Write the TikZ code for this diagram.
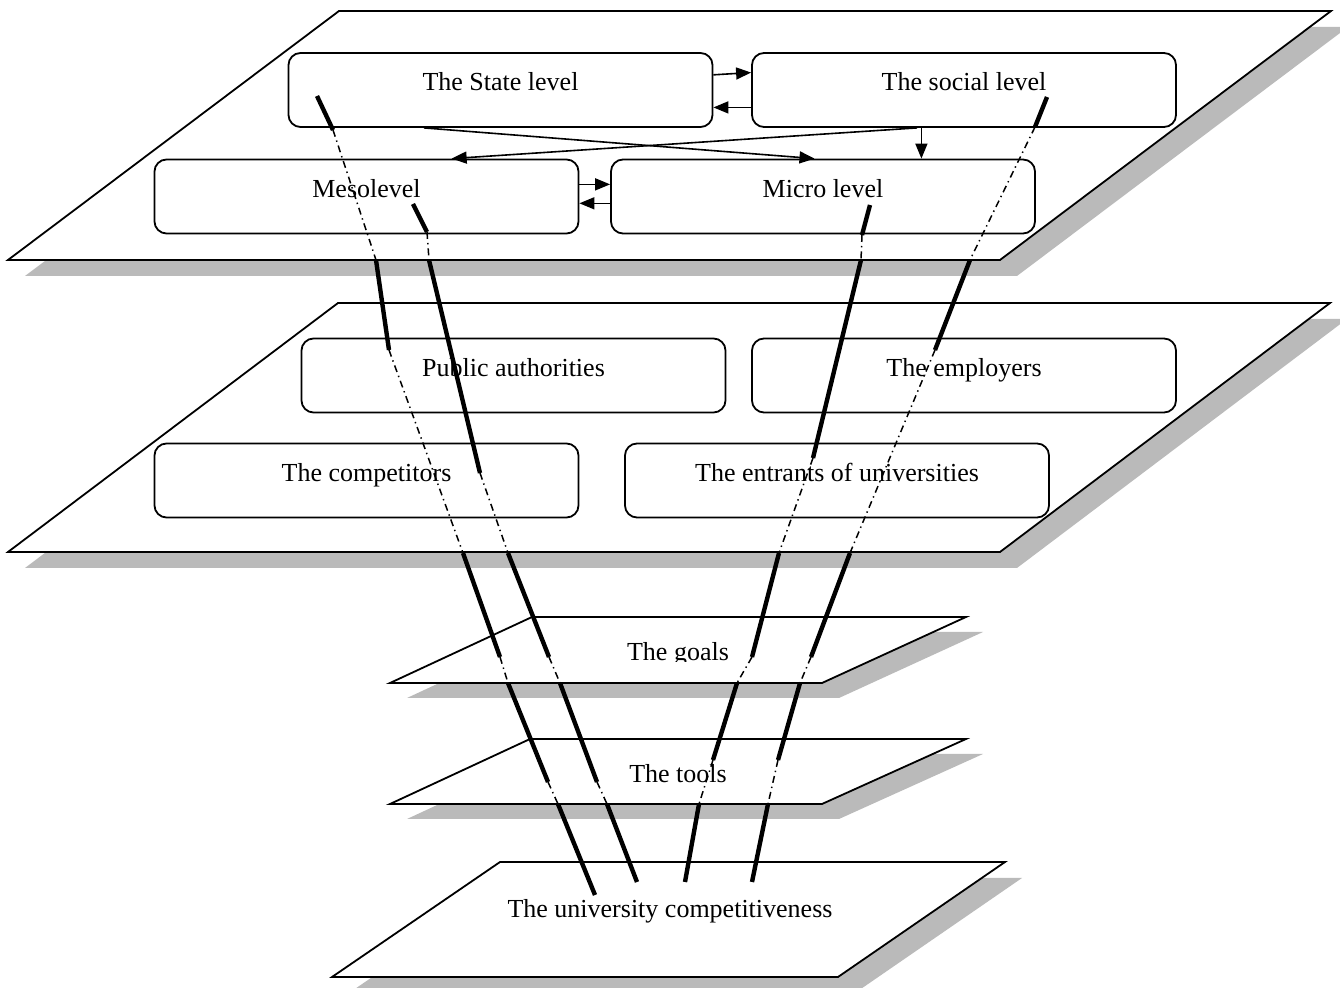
\documentclass[tikz,border=0pt]{standalone}
\usepackage{fontspec}
\setmainfont{Liberation Serif}
\usetikzlibrary{arrows.meta,calc}
\begin{document}
\begin{tikzpicture}[x=0.5pt,y=-0.5pt,
  plane/.style={draw=black,line width=0.9pt,fill=white,line join=miter},
  shadow/.style={fill=black!27},
  box/.style={draw,line width=0.9pt,rounded corners=6pt,minimum width=212pt,minimum height=37pt,inner sep=0pt,fill=white},
  lbl/.style={font=\fontsize{13}{15}\selectfont,inner sep=0pt,anchor=base},
  arr/.style={line width=0.8pt,-{Triangle[length=7.5pt,width=6pt]}},
  strand/.style={line width=2.2pt},
  hidden/.style={line width=0.75pt,dash pattern=on 3.5pt off 2pt on 0.7pt off 2pt}
]
\useasboundingbox (0,0) rectangle (1340,988);
\clip (0,0) rectangle (1340,988);

% ---- planes with shadows ----
\fill[shadow] (356,27) -- (1348,27) -- (1017,276) -- (25,276) -- cycle;
\draw[plane] (339,11) -- (1331,11) -- (1000,260) -- (8,260) -- cycle;

\fill[shadow] (355,319) -- (1347,319) -- (1017,568) -- (25,568) -- cycle;
\draw[plane] (338,303) -- (1330,303) -- (1000,552) -- (8,552) -- cycle;

\fill[shadow] (549,632) -- (983,632) -- (839,698) -- (407,698) -- cycle;
\draw[plane] (532,617) -- (966,617) -- (822,683) -- (390,683) -- cycle;

\fill[shadow] (547,754) -- (983,754) -- (839,819) -- (407,819) -- cycle;
\draw[plane] (530,739) -- (966,739) -- (822,804) -- (390,804) -- cycle;

\fill[shadow] (517,878) -- (1022,878) -- (855,993) -- (349,993) -- cycle;
\draw[plane] (500,862) -- (1005,862) -- (838,977) -- (332,977) -- cycle;

% ---- boxes ----
\node[box] (state) at (500.5,90) {};
\node[box] (social) at (964,90) {};
\node[box] (meso) at (366.5,196.5) {};
\node[box] (micro) at (823,196.5) {};
\node[box] (public) at (513.5,375.5) {};
\node[box] (employers) at (964,375.5) {};
\node[box] (competitors) at (366.5,480.5) {};
\node[box] (entrants) at (837,480.5) {};

\node[lbl] (stateT) at ([yshift=-0.5pt]state.center) {The State level};
\node[lbl] (socialT) at ([yshift=-0.5pt]social.center) {The social level};
\node[lbl] (mesoT) at ([yshift=-0.5pt]meso.center) {Mesolevel};
\node[lbl] (microT) at ([yshift=-0.5pt]micro.center) {Micro level};
\node[lbl] (publicT) at ([yshift=-0.5pt]public.center) {Public authorities};
\node[lbl] (employersT) at ([yshift=-0.5pt]employers.center) {The employers};
\node[lbl] (competitorsT) at ([yshift=-0.5pt]competitors.center) {The competitors};
\node[lbl] (entrantsT) at ([yshift=-0.5pt]entrants.center) {The entrants of universities};

\begin{scope}
\clip (500,600) rectangle (860,662);
\node[lbl] (goalsT) at (678,661) {The goals};
\end{scope}
\node[lbl] (toolsT) at (678,783) {The tools};
\node[lbl] (univT) at (670,918) {The university competitiveness};

% ---- arrows between boxes ----
\draw[arr] ($(state.north east)!0.30!(state.south east)$) -- ($(social.north west)!0.27!(social.south west)$);
\draw[arr] ($(social.north west)!0.73!(social.south west)$) -- ($(state.north east)!0.73!(state.south east)$);
\draw[arr] ($(meso.north east)!0.34!(meso.south east)$) -- ($(micro.north west)!0.34!(micro.south west)$);
\draw[arr] ($(micro.north west)!0.59!(micro.south west)$) -- ($(meso.north east)!0.59!(meso.south east)$);
\draw[arr] ($(state.south west)!0.32!(state.south east)$) -- ($(micro.north west)!0.48!(micro.north east)$);
\draw[arr] ($(social.south west)!0.39!(social.south east)$) -- ($(meso.north west)!0.70!(meso.north east)$);
\coordinate (sd) at ($(social.south west)!0.40!(social.south east)$);
\draw[arr] (sd) -- (sd |- micro.north);

% ---- strands ----
\coordinate (a0) at (317,96);  \coordinate (a1) at (333,130); \coordinate (a2) at (376,260);
\coordinate (a3) at (389,350); \coordinate (a4) at (463,553); \coordinate (a5) at (500,657);
\coordinate (a6) at (508,683); \coordinate (a7) at (548,782); \coordinate (a8) at (558,804);
\coordinate (a9) at (595,895);
\draw[strand] (a0) -- (a1); \draw[hidden] (a1) -- (a2); \draw[strand] (a2) -- (a3);
\draw[hidden] (a3) -- (a4); \draw[strand] (a4) -- (a5); \draw[hidden] (a5) -- (a6);
\draw[strand] (a6) -- (a7); \draw[hidden] (a7) -- (a8); \draw[strand] (a8) -- (a9);

\coordinate (b0) at (413,204); \coordinate (b1) at (427,232); \coordinate (b2) at (429,260);
\coordinate (b3) at (480,473); \coordinate (b4) at (508,553); \coordinate (b5) at (549,657);
\coordinate (b6) at (560,683); \coordinate (b7) at (597,782); \coordinate (b8) at (607,804);
\coordinate (b9) at (637,882);
\draw[strand] (b0) -- (b1); \draw[hidden] (b1) -- (b2); \draw[strand] (b2) -- (b3);
\draw[hidden] (b3) -- (b4); \draw[strand] (b4) -- (b5); \draw[hidden] (b5) -- (b6);
\draw[strand] (b6) -- (b7); \draw[hidden] (b7) -- (b8); \draw[strand] (b8) -- (b9);

\coordinate (c0) at (870,205); \coordinate (c1) at (862,235); \coordinate (c2) at (861,260);
\coordinate (c3) at (813,458); \coordinate (c4) at (779,553); \coordinate (c5) at (752,657);
\coordinate (c6) at (737,683); \coordinate (c7) at (713,760); \coordinate (c8) at (699,804);
\coordinate (c9) at (685,882);
\draw[strand] (c0) -- (c1); \draw[hidden] (c1) -- (c2); \draw[strand] (c2) -- (c3);
\draw[hidden] (c3) -- (c4); \draw[strand] (c4) -- (c5); \draw[hidden] (c5) -- (c6);
\draw[strand] (c6) -- (c7); \draw[hidden] (c7) -- (c8); \draw[strand] (c8) -- (c9);

\coordinate (d0) at (1047,97); \coordinate (d1) at (1035,127); \coordinate (d2) at (970,260);
\coordinate (d3) at (935,350); \coordinate (d4) at (850,553); \coordinate (d5) at (811,657);
\coordinate (d6) at (800,683); \coordinate (d7) at (778,760); \coordinate (d8) at (768,804);
\coordinate (d9) at (752,882);
\draw[strand] (d0) -- (d1); \draw[hidden] (d1) -- (d2); \draw[strand] (d2) -- (d3);
\draw[hidden] (d3) -- (d4); \draw[strand] (d4) -- (d5); \draw[hidden] (d5) -- (d6);
\draw[strand] (d6) -- (d7); \draw[hidden] (d7) -- (d8); \draw[strand] (d8) -- (d9);
\end{tikzpicture}
\end{document}
